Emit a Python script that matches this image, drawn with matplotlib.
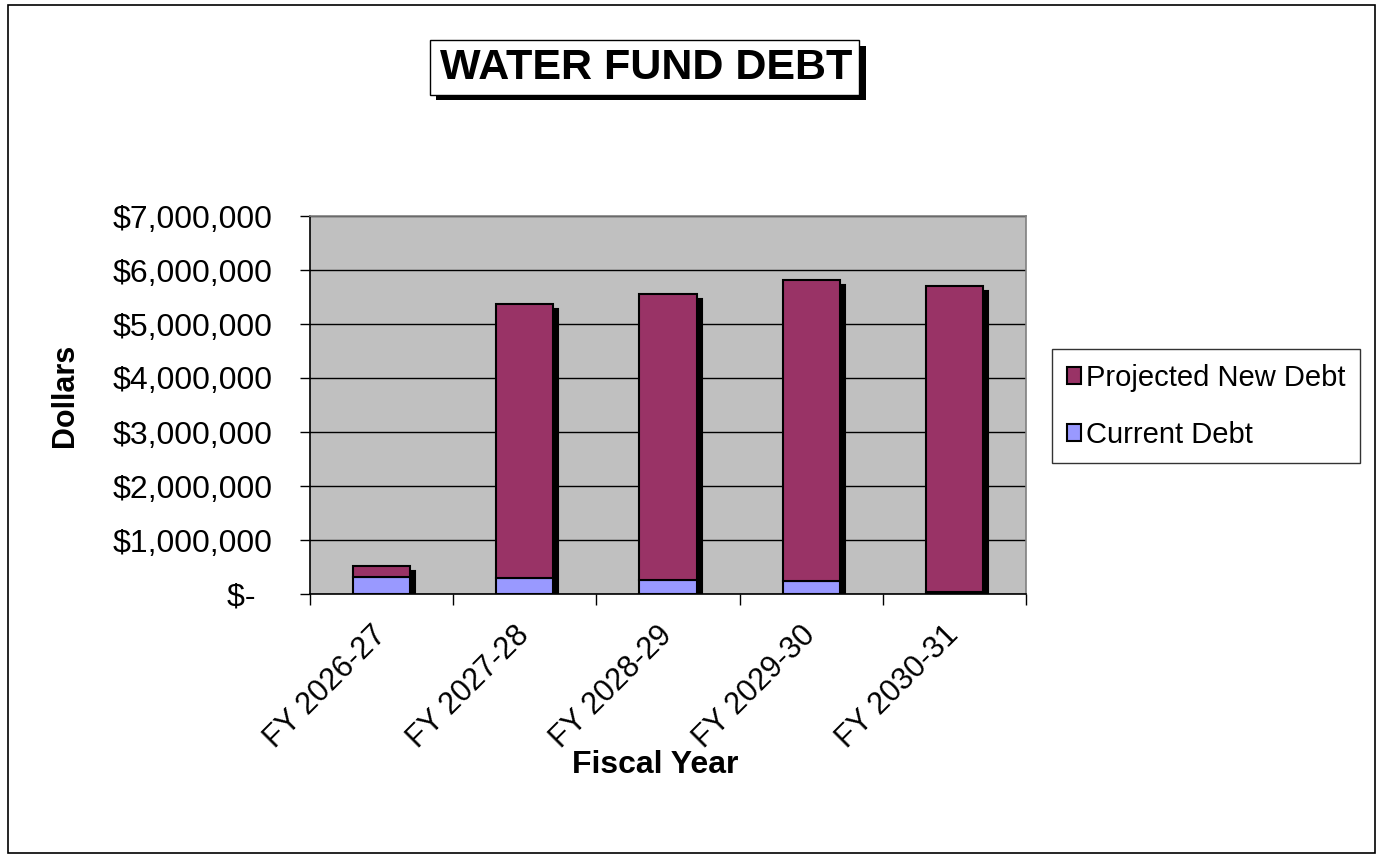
import matplotlib
matplotlib.use("Agg")
import matplotlib.pyplot as plt
import matplotlib.transforms as mtransforms
from matplotlib.patches import Rectangle, Patch
from matplotlib.ticker import FuncFormatter, MultipleLocator
import numpy as np

plt.rcParams['font.family'] = ['Liberation Sans', 'DejaVu Sans']

categories = ["FY 2026-27", "FY 2027-28", "FY 2028-29", "FY 2029-30", "FY 2030-31"]
current_debt = [310000, 290000, 260000, 240000, 40000]
projected_new_debt = [200000, 5080000, 5300000, 5570000, 5660000]
series_names = ["Projected New Debt", "Current Debt"]
title = "WATER FUND DEBT"

W, H = 1384, 856
fig = plt.figure(figsize=(W / 100, H / 100), dpi=100)

def fx(px):
    return px / W

def fy(py):
    return 1 - py / H

# outer border
fig.patches.append(Rectangle((fx(8), fy(853)), fx(1375) - fx(8), fy(5) - fy(853),
                             transform=fig.transFigure, fill=False, edgecolor='black', linewidth=1.2))

# title box with shadow
fig.patches.append(Rectangle((fx(436), fy(100)), fx(866) - fx(436), fy(46) - fy(100),
                             transform=fig.transFigure, facecolor='black', edgecolor='black', linewidth=0))
fig.patches.append(Rectangle((fx(430), fy(95)), fx(859) - fx(430), fy(40) - fy(95),
                             transform=fig.transFigure, facecolor='white', edgecolor='black', linewidth=1.0))
fig.text(fx(646), fy(68), title, ha='center', va='center', fontsize=31, fontweight='bold')

ax = fig.add_axes([fx(310), fy(594), fx(1026) - fx(310), fy(216) - fy(594)])
ax.set_facecolor('#C0C0C0')

x = np.arange(len(categories))
width = 0.4
totals = [c + p for c, p in zip(current_debt, projected_new_debt)]

# shadows
shadow_tr = mtransforms.offset_copy(ax.transData, fig=fig, x=5, y=-5, units='dots')
ax.bar(x, totals, width=width, color='black', edgecolor='black', linewidth=1.5,
       transform=shadow_tr, zorder=2, clip_on=True)

ax.bar(x, current_debt, width=width, color='#9999FF', edgecolor='black', linewidth=1.5,
       zorder=3, label=series_names[1])
ax.bar(x, projected_new_debt, width=width, bottom=current_debt, color='#993366',
       edgecolor='black', linewidth=1.5, zorder=3, label=series_names[0])

ax.set_ylim(0, 7000000)
ax.set_xlim(-0.5, len(categories) - 0.5)
ax.yaxis.set_major_locator(MultipleLocator(1000000))
ax.yaxis.grid(True, color='black', linewidth=1.0, zorder=1)
ax.set_axisbelow(True)

def money(v, pos):
    if v == 0:
        return "$-  "
    return "${:,.0f}".format(v)

ax.yaxis.set_major_formatter(FuncFormatter(money))
ax.tick_params(axis='y', labelsize=23, length=7.2, width=1, direction='out', pad=19.5)

ax.set_xticks(x)
ax.set_xticklabels(categories, rotation=45, ha='right', va='center',
                   rotation_mode='anchor', fontsize=22)
ax.tick_params(axis='x', length=0, pad=26.5)
ax.set_xticks(np.arange(-0.5, len(categories), 1.0), minor=True)
ax.tick_params(axis='x', which='minor', length=8, width=1, direction='out')

for s in ['left', 'bottom']:
    ax.spines[s].set_color('black')
    ax.spines[s].set_linewidth(1.2)
for s in ['top', 'right']:
    ax.spines[s].set_color('#808080')
    ax.spines[s].set_linewidth(1.2)

fig.text(fx(65), fy(395), "Dollars", ha='center', va='center', rotation=90,
         fontsize=22, fontweight='bold')
fig.text(fx(655), fy(765), "Fiscal Year", ha='center', va='center', fontsize=23, fontweight='bold')

handles = [Patch(facecolor='#993366', edgecolor='black', linewidth=1.5),
           Patch(facecolor='#9999FF', edgecolor='black', linewidth=1.5)]
leg = fig.legend(handles, series_names, loc='upper left',
                 bbox_to_anchor=(fx(1052), fy(349)), fontsize=21, frameon=True,
                 fancybox=False, edgecolor='black', handlelength=0.5, handleheight=0.5,
                 handletextpad=0.15, labelspacing=1.0, borderpad=0.5, borderaxespad=0)
leg.get_frame().set_linewidth(1.0)

fig.savefig("out.png", dpi=100)
